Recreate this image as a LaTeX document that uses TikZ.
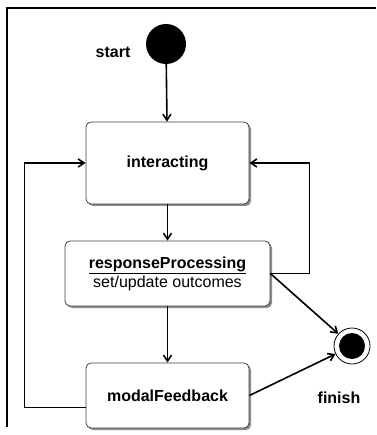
\documentclass[tikz,border=0pt]{standalone}
\usepackage{fontspec}
\setmainfont{Liberation Sans}
\usetikzlibrary{arrows.meta,shadows}
\begin{document}
\begin{tikzpicture}[x=1pt, y=-1pt, font=\fontsize{16}{19}\selectfont,
		statebox/.style={draw=black!75, line width=0.8pt, rounded corners=5pt, fill=white, align=center,
			drop shadow={shadow xshift=2pt, shadow yshift=-2pt, fill=black!45, opacity=1}},
		flow/.style={line width=1.6pt, -{Straight Barb[length=6pt, width=8pt]}},
		dot/.style={circle, fill=black, inner sep=0pt} ]
		\useasboundingbox (0,0) rectangle (376,435);
		\draw[line width=1.6pt] (376,8) -- (7,8) -- (7,427);
		\node[dot, minimum size=40pt] (start) at (166,44) {};
		\node[font=\fontsize{16}{19}\selectfont\bfseries] (startlabel) at (113,52) {start};
		\node[statebox, minimum width=163pt, minimum height=82pt] (interacting) at (167.5,163) {\textbf{interacting}};
		\node[statebox, minimum width=205pt, minimum height=65pt] (response) at (167.5,273.5)
			{\underline{\textbf{responseProcessing}}\\set/update outcomes};
		\node[statebox, minimum width=163pt, minimum height=65pt] (modal) at (167.5,395.5) {\textbf{modalFeedback}};
		\node[circle, draw, fill=white, line width=0.8pt, minimum size=36pt, inner sep=0pt] (finish) at (352,346) {};
		\node[dot, minimum size=26pt] (finishdot) at (finish) {};
		\node[font=\fontsize{16}{19}\selectfont\bfseries] (finishlabel) at (339,398) {finish};
		\draw[flow] (start) -- (interacting);
		\draw[flow] (interacting) -- (response);
		\draw[flow] (response) -- (modal);
		\draw[flow] (response.east) -| ([xshift=60pt]interacting.east) -- (interacting.east);
		\draw[flow] ([yshift=-12pt]modal.west) -- ++(-61,0) |- (interacting.west);
		\draw[flow] (response.east) -- (finish);
		\draw[flow] (modal.east) -- (finish);
	\end{tikzpicture}
\end{document}
